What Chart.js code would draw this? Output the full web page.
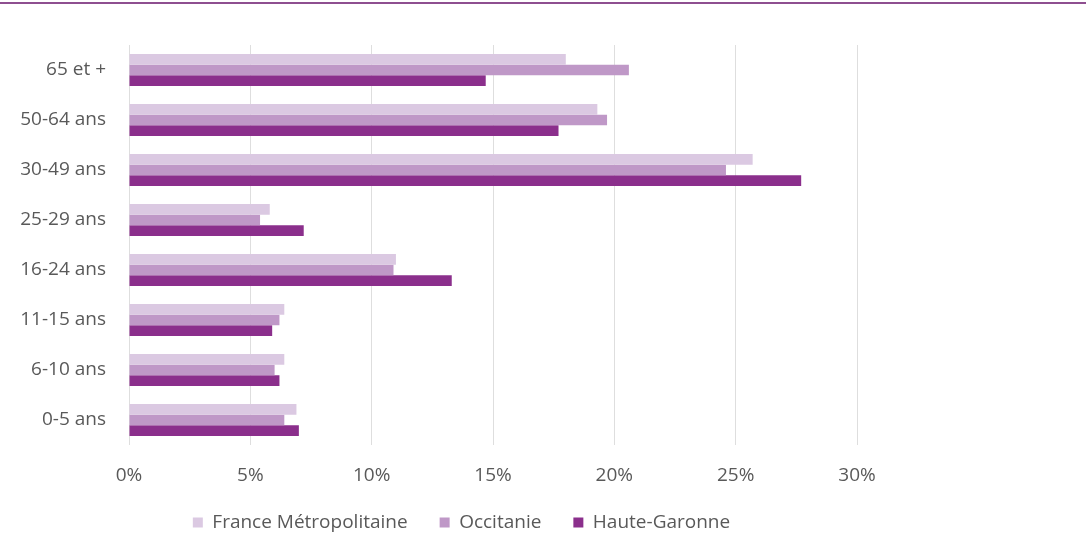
<!DOCTYPE html>
<html>
<head>
<meta charset="utf-8">
<script src="https://cdn.jsdelivr.net/npm/chart.js@4"></script>
<style>
  html, body { margin: 0; padding: 0; background: #fff; }
  #wrap { width: 1086px; height: 534px; }
</style>
</head>
<body>
<div id="wrap"><canvas id="ageChart" width="1086" height="534"></canvas></div>
<script>
// age groups, top to bottom
const ageGroups = ['65 et +', '50-64 ans', '30-49 ans', '25-29 ans', '16-24 ans', '11-15 ans', '6-10 ans', '0-5 ans'];

// share of the population per age group (%)
const franceMetro = [18.0, 19.3, 25.7, 5.8, 11.0, 6.4, 6.4, 6.9];
const occitanie = [20.6, 19.7, 24.6, 5.4, 10.9, 6.2, 6.0, 6.4];
const hauteGaronne = [14.7, 17.7, 27.7, 7.2, 13.3, 5.9, 6.2, 7.0];

const xTicks = [0, 5, 10, 15, 20, 25, 30];

const textColor = '#595959';
const baseFont = { family: '"Open Sans", sans-serif', size: 19, lineHeight: 1 };

// purple rule along the top edge
const topRule = {
    id: 'topRule',
    beforeDraw(chart) {
        const c = chart.ctx;
        c.save();
        c.fillStyle = '#8e4f90';
        c.fillRect(0, 2, chart.width, 2);
        c.restore();
    }
};

// nudge the legend a bit to the right of the full-width box
const legendShift = {
    id: 'legendShift',
    afterLayout(chart) {
        if (chart.legend) {
            chart.legend.left += 33;
            chart.legend.right += 33;
        }
    }
};

function renderAgeChart(canvasId) {
    const ctx = document.getElementById(canvasId).getContext('2d');
    new Chart(ctx, {
        type: 'bar',
        data: {
            labels: ageGroups,
            datasets: [{
                label: 'France Métropolitaine',
                data: franceMetro,
                backgroundColor: '#dbc9e2',
            }, {
                label: 'Occitanie',
                data: occitanie,
                backgroundColor: '#bf98c7',
            }, {
                label: 'Haute-Garonne',
                data: hauteGaronne,
                backgroundColor: '#8b2f8c',
            }]
        },
        options: {
            indexAxis: 'y',
            responsive: false,
            animation: false,
            datasets: {
                bar: { categoryPercentage: 0.64, barPercentage: 1.0 }
            },
            layout: { padding: { left: 0, right: 229, top: 45, bottom: -8 } },
            scales: {
                x: {
                    min: 0,
                    max: 30,
                    afterBuildTicks(scale) {
                        scale.ticks = xTicks.map(v => ({ value: v }));
                    },
                    afterFit(scale) { scale.height = 36; },
                    ticks: {
                        callback: v => v + '%',
                        color: textColor,
                        font: baseFont,
                        padding: 21,
                        maxRotation: 0
                    },
                    grid: { color: '#dedede', drawTicks: false },
                    border: { display: false }
                },
                y: {
                    afterFit(scale) { scale.width = 129; },
                    ticks: {
                        color: textColor,
                        font: baseFont,
                        padding: 23
                    },
                    grid: { display: false, drawTicks: false },
                    border: { display: false }
                }
            },
            plugins: {
                legend: {
                    position: 'bottom',
                    labels: {
                        boxWidth: 10,
                        boxHeight: 10,
                        padding: 32,
                        color: textColor,
                        font: baseFont
                    }
                },
                tooltip: { enabled: false }
            }
        },
        plugins: [topRule, legendShift]
    });
}

renderAgeChart('ageChart');
</script>
</body>
</html>
